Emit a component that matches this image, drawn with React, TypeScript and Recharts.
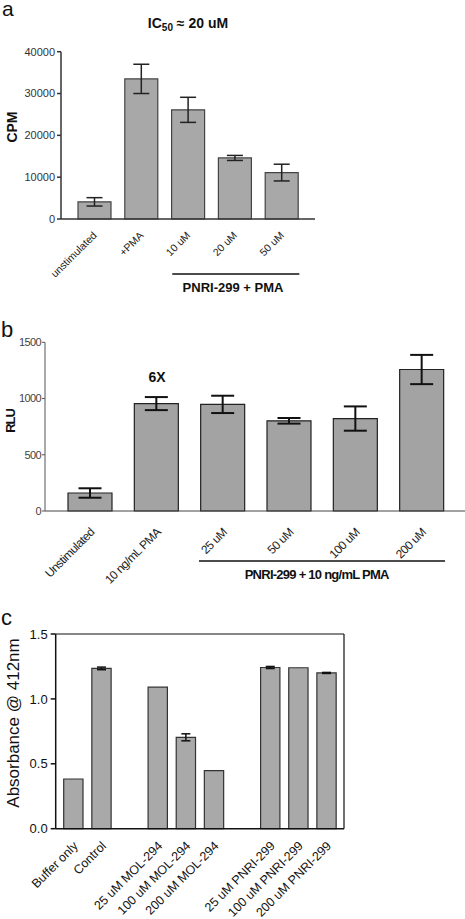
import React from 'react';
import { BarChart, Bar, XAxis, YAxis, ErrorBar } from 'recharts';

// Panel a
const aCategories = ['unstimulated', '+PMA', '10 uM', '20 uM', '50 uM'];
const aValues = [4100, 33500, 26100, 14600, 11100];
const aErrors = [1000, 3500, 3000, 600, 2000];
const aTicks = [0, 10000, 20000, 30000, 40000];

// Panel b
const bCategories = ['Unstimulated', '10 ng/mL PMA', '25 uM', '50 uM', '100 uM', '200 uM'];
const bValues = [160, 955, 948, 802, 822, 1258];
const bErrors = [42, 58, 77, 25, 108, 130];
const bTicks = [0, 500, 1000, 1500];

// Panel c
const cCategories = ['Buffer only', 'Control', '', '25 uM MOL-294', '100 uM MOL-294', '200 uM MOL-294', '', '25 uM PNRI-299', '100 uM PNRI-299', '200 uM PNRI-299'];
const cValues = [0.383, 1.235, null, 1.09, 0.704, 0.447, null, 1.242, 1.24, 1.2];
const cErrors = [null, 0.01, null, null, 0.027, null, null, 0.008, null, 0.004];
const cTicks = [0, 0.5, 1.0, 1.5];

const aData = aCategories.map((name, i) => ({ name, value: aValues[i], err: aErrors[i] }));
const bData = bCategories.map((name, i) => ({ name, value: bValues[i], err: bErrors[i] }));
const cData = cCategories.map((name, i) => ({ name, value: cValues[i], err: cErrors[i] }));

const FONT = 'Arial, "Liberation Sans", Helvetica, sans-serif';

const RotTick = (props: any) => {
  const { x, y, payload, fs, fill, dx, dy, ls } = props;
  if (!payload || !payload.value) return null;
  const px = x + dx;
  const py = y + dy;
  return (
    <text
      x={px}
      y={py}
      textAnchor="end"
      fontSize={fs}
      fill={fill}
      fontFamily={FONT}
      letterSpacing={ls || 0}
      transform={`rotate(-45, ${px}, ${py})`}
    >
      {payload.value}
    </text>
  );
};

export default function App() {
  return (
    <div style={{ position: 'absolute', left: 0, top: 0, width: 465, height: 919, background: '#fff', fontFamily: FONT }}>
      {/* Panel a */}
      <div style={{ position: 'absolute', left: 0, top: 0 }}>
        <BarChart width={330} height={300} data={aData} margin={{ top: 51.7, right: 15, bottom: 21, left: 11 }}>
          <XAxis
            dataKey="name"
            height={60}
            padding={{ left: 10, right: 10 }}
            tickLine={false}
            axisLine={{ stroke: '#333', strokeWidth: 1.5 }}
            interval={0}
            tick={(p: any) => <RotTick {...p} fs={10.5} fill="#222" dx={3} dy={9} />}
          />
          <YAxis
            width={50}
            domain={[0, 40000]}
            ticks={aTicks}
            tickSize={4}
            tickMargin={2}
            axisLine={{ stroke: '#333', strokeWidth: 1.5 }}
            tickLine={{ stroke: '#333', strokeWidth: 1.5 }}
            tick={{ fontSize: 11, fill: '#333', fontFamily: FONT }}
            interval={0}
          />
          <Bar dataKey="value" barSize={33} fill="#a8a8a8" stroke="#444" strokeWidth={1.2} isAnimationActive={false}>
            <ErrorBar dataKey="err" width={8} stroke="#222" strokeWidth={1.5} />
          </Bar>
        </BarChart>
      </div>

      {/* Panel b */}
      <div style={{ position: 'absolute', left: 0, top: 300 }}>
        <BarChart width={465} height={300} data={bData} margin={{ top: 42.3, right: 0, bottom: 19, left: 5 }}>
          <XAxis
            dataKey="name"
            height={70}
            padding={{ left: 12, right: 10 }}
            tickLine={false}
            axisLine={{ stroke: '#444', strokeWidth: 1.2 }}
            interval={0}
            tick={(p: any) => <RotTick {...p} fs={12} fill="#222" dx={5} dy={14} ls={-0.5} />}
          />
          <YAxis
            width={40}
            domain={[0, 1500]}
            ticks={bTicks}
            tickSize={3}
            tickMargin={1}
            axisLine={{ stroke: '#555', strokeWidth: 1 }}
            tickLine={{ stroke: '#555', strokeWidth: 1 }}
            tick={{ fontSize: 11, fill: '#444', fontFamily: FONT, letterSpacing: -0.6 }}
            interval={0}
          />
          <Bar dataKey="value" barSize={44} fill="#a3a3a3" stroke="#222" strokeWidth={1.2} isAnimationActive={false}>
            <ErrorBar dataKey="err" width={11.5} stroke="#111" strokeWidth={2} />
          </Bar>
        </BarChart>
      </div>

      {/* Panel c */}
      <div style={{ position: 'absolute', left: 0, top: 600 }}>
        <BarChart width={465} height={319} data={cData} margin={{ top: 33, right: 120, bottom: 10.3, left: 11 }}>
          <XAxis
            dataKey="name"
            height={80}
            padding={{ left: 4, right: 3 }}
            tickLine={false}
            axisLine={{ stroke: '#111', strokeWidth: 1.5 }}
            interval={0}
            tick={(p: any) => <RotTick {...p} fs={12.5} fill="#111" dx={5} dy={10} />}
          />
          <XAxis
            xAxisId="top"
            orientation="top"
            dataKey="name"
            height={1}
            tick={false}
            tickLine={false}
            axisLine={{ stroke: '#111', strokeWidth: 1.2 }}
          />
          <YAxis
            width={44.7}
            domain={[0, 1.5]}
            ticks={cTicks}
            tickSize={5}
            tickMargin={3}
            axisLine={{ stroke: '#111', strokeWidth: 1.5 }}
            tickLine={{ stroke: '#111', strokeWidth: 1.5 }}
            tick={{ fontSize: 13, fill: '#111', fontFamily: FONT }}
            tickFormatter={(v: number) => v.toFixed(1)}
            interval={0}
          />
          <YAxis
            yAxisId="right"
            orientation="right"
            width={1}
            domain={[0, 1.5]}
            tick={false}
            tickLine={false}
            axisLine={{ stroke: '#111', strokeWidth: 1.2 }}
          />
          <Bar dataKey="value" barSize={19.3} fill="#a9a9a9" stroke="#333" strokeWidth={1.2} isAnimationActive={false}>
            <ErrorBar dataKey="err" width={4.5} stroke="#111" strokeWidth={1.5} />
          </Bar>
        </BarChart>
      </div>

      {/* Annotations */}
      <svg width={465} height={919} style={{ position: 'absolute', left: 0, top: 0, pointerEvents: 'none' }}>
        <g fontFamily={FONT} fill="#111">
          <text x={2} y={16} fontSize={21}>a</text>
          <text x={188} y={28.3} fontSize={14} fontWeight="bold" textAnchor="middle">
            IC<tspan fontSize={10} dy={3}>50</tspan><tspan dy={-3}> ≈ 20 uM</tspan>
          </text>
          <text x={16.7} y={127} fontSize={14} fontWeight="bold" textAnchor="middle" transform="rotate(-90, 16.7, 127)">CPM</text>
          <line x1={172.3} y1={274} x2={299.3} y2={274} stroke="#111" strokeWidth={1.5} />
          <text x={233} y={292.3} fontSize={13} fontWeight="bold" textAnchor="middle">PNRI-299 + PMA</text>

          <text x={1} y={336.7} fontSize={22}>b</text>
          <text x={157} y={381.7} fontSize={14} fontWeight="bold" textAnchor="middle">6X</text>
          <text x={15} y={421} fontSize={13} fontWeight="bold" textAnchor="middle" letterSpacing={-1} transform="rotate(-90, 15, 421)">RLU</text>
          <line x1={199} y1={561} x2={445} y2={561} stroke="#111" strokeWidth={1.5} />
          <text x={316.7} y={579.3} fontSize={13} fontWeight="bold" textAnchor="middle" letterSpacing={-0.75}>PNRI-299 + 10 ng/mL PMA</text>

          <text x={1} y={625} fontSize={22}>c</text>
          <text x={18.5} y={723} fontSize={17} textAnchor="middle" transform="rotate(-90, 18.5, 723)">Absorbance @ 412nm</text>
        </g>
      </svg>
    </div>
  );
}
